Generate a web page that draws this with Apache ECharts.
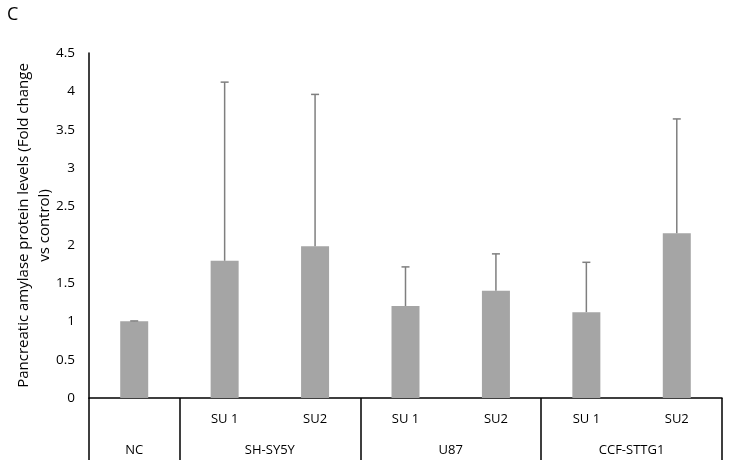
<!DOCTYPE html>
<html><head><meta charset="utf-8">
<script src="https://cdn.jsdelivr.net/npm/echarts@6/dist/echarts.min.js"></script>
<style>html,body{margin:0;padding:0;background:#fff}#c{width:729px;height:467px}</style>
</head><body><div id="c"></div>
<script>
const categories = ['', 'SU 1', 'SU2', 'SU 1', 'SU2', 'SU 1', 'SU2'];
const groups = ['NC', 'SH-SY5Y', 'U87', 'CCF-STTG1'];
const groupCenters = [0.5, 2, 4, 6];
const groupBounds = [0, 1, 3, 5, 7];
const values = [1.0, 1.79, 1.98, 1.2, 1.4, 1.12, 2.15];
const errTop = [1.005, 4.12, 3.96, 1.71, 1.88, 1.77, 3.64];
const yTicks = [0, 0.5, 1, 1.5, 2, 2.5, 3, 3.5, 4, 4.5];

const font = '"Open Sans", "Liberation Sans", sans-serif';
const chart = echarts.init(document.getElementById('c'));
chart.setOption({
  animation: false,
  graphic: [{type:'text', left: 7, top: 6, style:{text:'C', font:'18px ' + font, fill:'#000'}}],
  grid: {left: 89, right: 7, top: 53, bottom: 69, containLabel: false, outerBoundsMode: 'none'},
  xAxis: [{
    type: 'category', data: categories,
    axisLine: {lineStyle: {color: '#000', width: 1.5}},
    axisTick: {show: false},
    axisLabel: {color: '#000', fontFamily: font, fontSize: 13, margin: 15}
  }, {
    type: 'value', min: 0, max: 7, position: 'bottom',
    axisLine: {show: false},
    splitLine: {show: false},
    axisTick: {show: true, customValues: groupBounds, length: 62, lineStyle: {color: '#000', width: 1.5}},
    axisLabel: {customValues: groupCenters, color: '#000', fontFamily: font, fontSize: 13, margin: 46,
      formatter: v => groups[groupCenters.indexOf(v)] || ''}
  }],
  yAxis: {
    type: 'value', min: 0, max: 4.5, interval: 0.5,
    name: 'Pancreatic amylase protein levels (Fold change\nvs control)',
    nameLocation: 'middle', nameGap: 34, nameRotate: 90, nameMoveOverlap: false,
    nameTextStyle: {color: '#000', fontFamily: font, fontSize: 15, lineHeight: 21},
    axisLine: {show: true, lineStyle: {color: '#000', width: 1.5}},
    axisTick: {show: false},
    splitLine: {show: false},
    axisLabel: {color: '#000', fontFamily: font, fontSize: 13.5, margin: 14,
      formatter: v => String(v)}
  },
  series: [{
    type: 'bar', data: values, barWidth: 28,
    itemStyle: {color: '#A5A5A5'}
  }, {
    type: 'custom',
    data: values.map((v, i) => [i, v, errTop[i]]),
    renderItem: function (params, api) {
      const x = api.value(0);
      const p0 = api.coord([x, api.value(1)]);
      const p1 = api.coord([x, api.value(2)]);
      const hw = 4;
      const st = {stroke: '#7F7F7F', lineWidth: 1.5};
      return {type: 'group', children: [
        {type: 'line', shape: {x1: p0[0], y1: p0[1], x2: p1[0], y2: p1[1]}, style: st},
        {type: 'line', shape: {x1: p1[0] - hw, y1: p1[1], x2: p1[0] + hw, y2: p1[1]}, style: st}
      ]};
    },
    z: 3
  }]
});
</script></body></html>
